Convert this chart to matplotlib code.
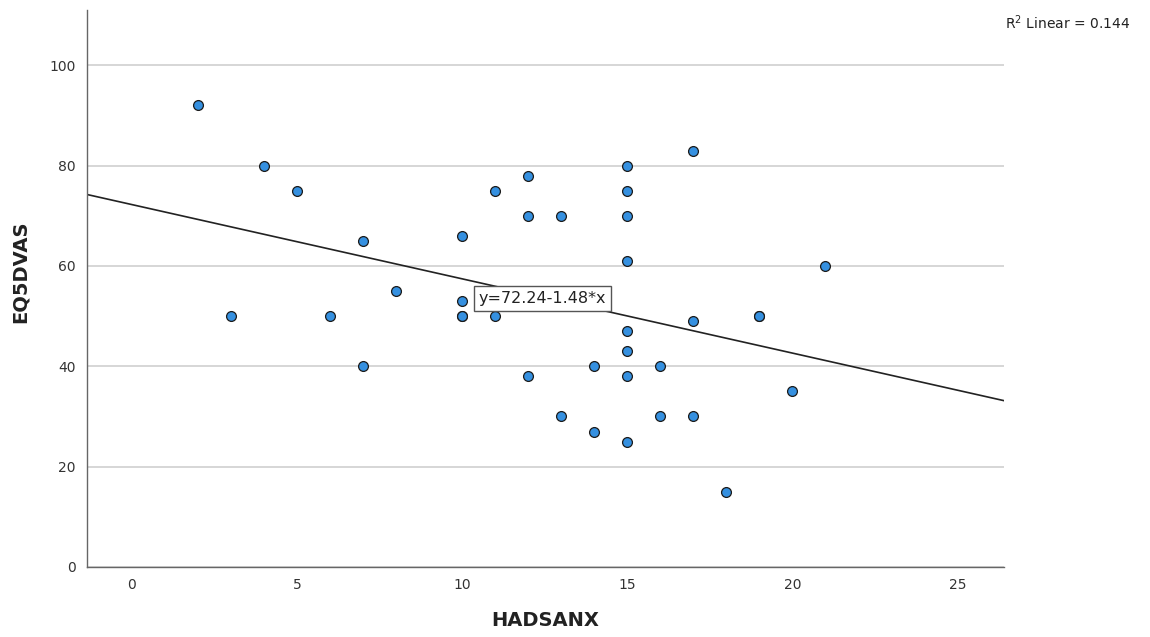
import numpy as np
import matplotlib
matplotlib.use('Agg')
import matplotlib.pyplot as plt

# HADSANX vs EQ5DVAS
hadsanx = [2, 3, 4, 5, 6, 7, 7, 8, 10, 10, 10, 10, 11, 11, 12, 12, 12, 13, 13,
           14, 14, 15, 15, 15, 15, 15, 15, 15, 15, 16, 16, 17, 17, 17, 18, 19, 19, 20, 21]
eq5dvas = [92, 50, 80, 75, 50, 65, 40, 55, 66, 53, 50, 50, 75, 50, 78, 70, 38, 70, 30,
           40, 27, 80, 75, 70, 61, 47, 43, 38, 25, 40, 30, 83, 49, 30, 15, 50, 50, 35, 60]

intercept = 72.24
slope = -1.48
r2 = 0.144

fig = plt.figure(figsize=(11.5, 6.37), dpi=100)
ax = fig.add_axes([0.0757, 0.110, 0.797, 0.874])

xmin, xmax = -1.36, 26.4
ax.set_xlim(xmin, xmax)
ax.set_ylim(0, 111)

ax.yaxis.grid(True, color='#cfcfcf', linewidth=1.2)
ax.set_axisbelow(True)

xs = np.array([xmin, xmax])
ax.plot(xs, intercept + slope * xs, color='#222222', linewidth=1.2, zorder=2)

ax.scatter(hadsanx, eq5dvas, s=50, color='#3590e0', edgecolor='#1a1a1a',
           linewidth=0.9, zorder=3)

ax.text(10.5, 53.5, 'y=72.24-1.48*x', fontsize=11.5, color='#222222', va='center',
        ha='left', zorder=4,
        bbox=dict(boxstyle='square,pad=0.3', facecolor='white', edgecolor='#555555', linewidth=1))

ax.set_xticks([0, 5, 10, 15, 20, 25])
ax.set_yticks([0, 20, 40, 60, 80, 100])
ax.tick_params(length=0, labelsize=10, colors='#333333', pad=8)

for s in ['top', 'right']:
    ax.spines[s].set_visible(False)
for s in ['left', 'bottom']:
    ax.spines[s].set_color('#666666')
    ax.spines[s].set_linewidth(1)

ax.set_xlabel('HADSANX', fontsize=14, fontweight='bold', color='#222222', labelpad=14)
ax.set_ylabel('EQ5DVAS', fontsize=14, fontweight='bold', color='#222222')
ax.yaxis.set_label_coords(-0.062, 0.53)

fig.text(0.874, 0.965, r'R$^2$ Linear = 0.144', fontsize=10, color='#222222', ha='left', va='center')

fig.savefig('out.png', dpi=100)
